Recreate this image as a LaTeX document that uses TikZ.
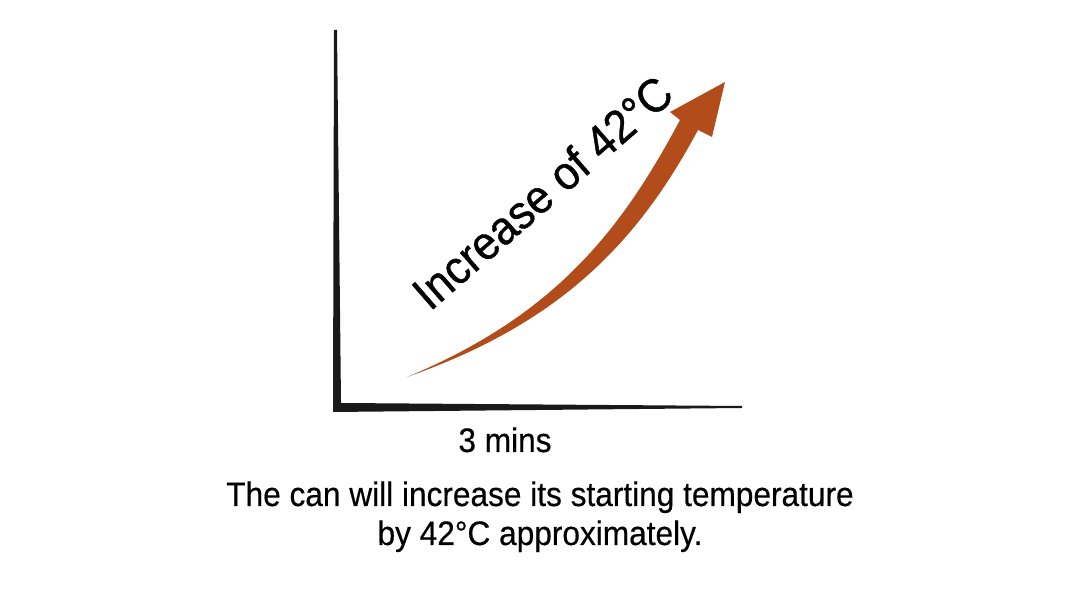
\documentclass[tikz,border=0pt]{standalone}
\usepackage{fontspec}
\setmainfont{Liberation Sans}[FakeStretch=0.93, FakeBold=0.4]
\newfontfamily\risefont{Liberation Sans}[FakeStretch=0.93, FakeBold=0.8]
\definecolor{canBrown}{RGB}{178,76,26}
\usetikzlibrary{positioning}

\begin{document}
\begin{tikzpicture}[x=1pt, y=1pt,
  caption/.style={font=\fontsize{34}{39}\selectfont, inner sep=0pt, anchor=base},
  rise/.style={font=\risefont\fontsize{47}{54}\selectfont, inner sep=0pt, anchor=base west, rotate=41},
  axisline/.style={fill=black!90},
  heat/.style={fill=canBrown}
]
  \useasboundingbox[fill=white] (0,0) rectangle (1080,596);

  % axes
  \fill[axisline] (334,566) -- (337,566) -- (341,193) -- (742,190) -- (742,188) -- (333,184) -- cycle;

  % rising arrow
  \fill[heat] (407,219) .. controls (556,281) and (622,367) .. (680,476)
    -- (670,484) -- (725,514) -- (712,459) -- (698,466)
    .. controls (638,354) and (561,273) .. (407,219) -- cycle;

  \node[rise] (rise) at (430,284) {Increase of 42°C};

  \node[caption] (xlab) at (505,144) {3 mins};
  \node[caption] (cap1) at (540,90) {The can will increase its starting temperature};
  \node[caption] (cap2) at (540,51) {by 42°C approximately.};
\end{tikzpicture}
\end{document}
